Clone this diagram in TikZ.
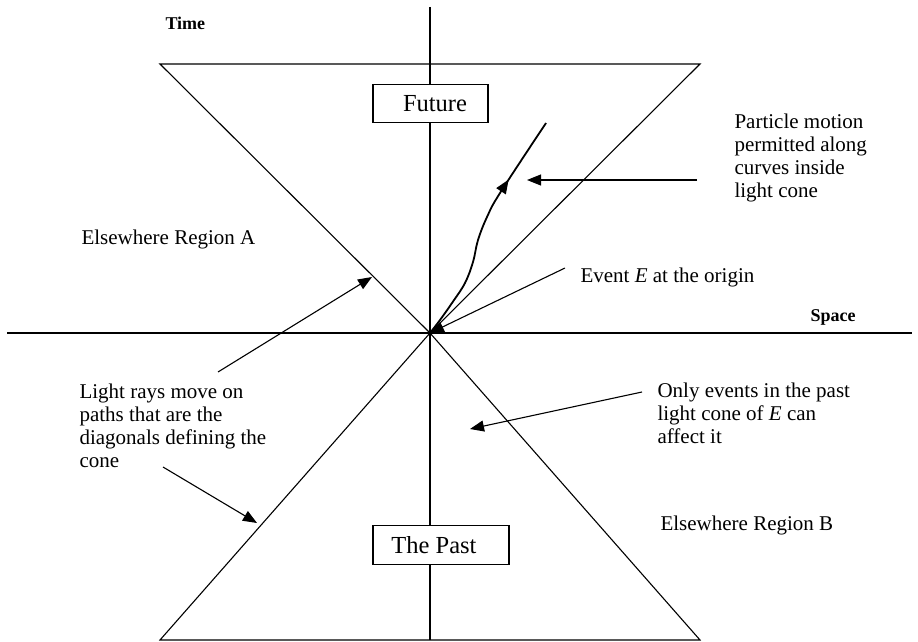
\documentclass[tikz,border=0pt]{standalone}
\usepackage{fontspec}
\setmainfont{Liberation Serif}
\usetikzlibrary{arrows.meta, decorations.markings}

\tikzset{
	label/.style = {anchor = base west, align = left, inner sep = 0pt, font = \fontsize{21}{23.3}\selectfont},
	axislabel/.style = {anchor = base west, inner sep = 0pt, font = \fontsize{18}{20}\selectfont\bfseries},
	conebox/.style = {draw, fill = white, line width = 1.2pt, minimum height = 38.5pt, inner sep = 0pt, font = \fontsize{24.5}{26}\selectfont}
}

\begin{document}
\begin{tikzpicture}[x = 1pt, y = -1pt, > = {Triangle[length = 14pt, width = 11pt]}, line width = 1.1pt]

	% Definition
	
	\def\OX{430};
	\def\OY{333};
	\def\LS{23.3};
	
	\useasboundingbox (0, 0) rectangle (918, 642);
	\coordinate (E) at (\OX, \OY);
	
	% Light cone
	
	\draw (E) -- (160, 64) -- (700, 64) -- cycle;
	\draw (E) -- (160, 640) -- (700, 640) -- cycle;
	
	% Coordinate axes
	
	\draw [line width = 1.5pt] (7, \OY) -- (912, \OY);
	\draw [line width = 1.3pt] (\OX, 7) -- (\OX, 640);
	
	\node [axislabel] (time) at (165, 30) {Time};
	\node [axislabel] (space) at (810, 321) {Space};
	
	% Boxes on the time axis
	
	\node [conebox, minimum width = 115pt] (future) at (430.5, 103.5) {\hspace*{9pt}Future};
	\node [conebox, minimum width = 136pt] (past) at (441, 545) {The Past\hspace*{14pt}};
	
	% Particle world line
	
	\draw [line width = 1.8pt, postaction = {decorate}, decoration = {markings, mark = at position 0.72 with {\arrow{>}}}]
		plot [smooth, tension = 0.6] coordinates {(E) (440, 320) (452, 303) (465, 283) (473, 262) (478, 240) (487, 217) (500, 193) (546, 123)};
	
	% Labels (multi-line ones sit on their last baseline)
	
	\node [label] (regionA) at (81, 244) {Elsewhere Region A};
	\node [label] (regionB) at (660, 530) {Elsewhere Region B};
	\node [label] (particle) at (734, {128 + 3 * \LS}) {Particle motion\\permitted along\\curves inside\\light cone};
	\node [label] (event) at (580, 282) {Event \textit{E} at the origin};
	\node [label] (light) at (79, {398 + 3 * \LS}) {Light rays move on\\paths that are the\\diagonals defining the\\cone};
	\node [label] (pastcone) at (657, {397 + 2 * \LS}) {Only events in the past\\light cone of \textit{E} can\\affect it};
	
	% Pointers
	
	\coordinate (particleTail) at (697, 180);
	\coordinate (particleTip) at (527, 180);
	\coordinate (eventTail) at (565, 268);
	\coordinate (lightTailA) at (218, 372);
	\coordinate (lightTipA) at (372, 277);
	\coordinate (lightTailB) at (163, 467);
	\coordinate (lightTipB) at (257, 523);
	\coordinate (pastTail) at (642, 392);
	\coordinate (pastTip) at (470, 429);
	
	\draw [->] (particleTail) -- (particleTip);
	\draw [->] (eventTail) -- (E);
	\draw [->] (lightTailA) -- (lightTipA);
	\draw [->] (lightTailB) -- (lightTipB);
	\draw [->] (pastTail) -- (pastTip);

\end{tikzpicture}
\end{document}
